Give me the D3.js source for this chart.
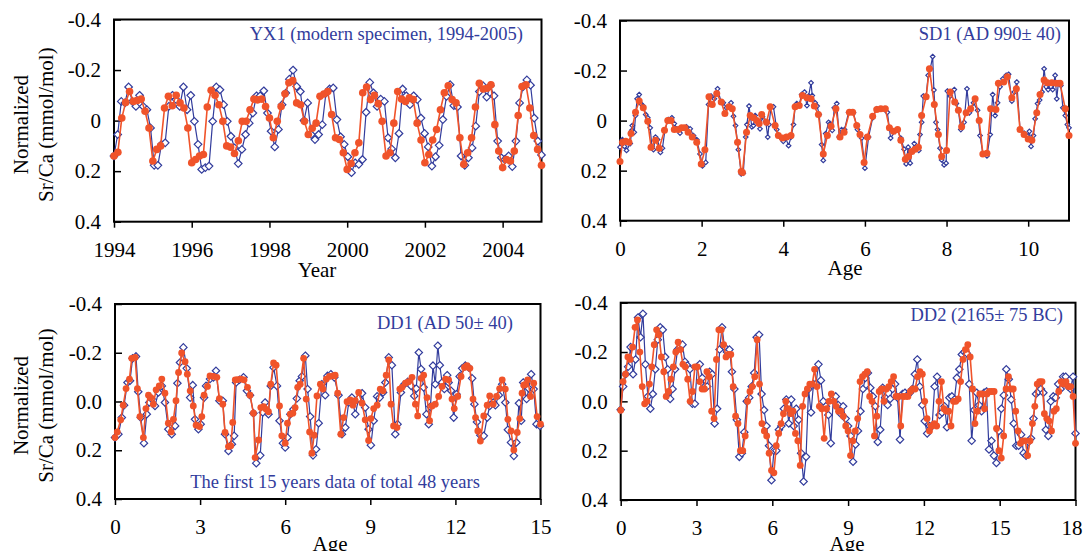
<!DOCTYPE html>
<html>
<head>
<meta charset="utf-8">
<script src="https://cdn.jsdelivr.net/npm/d3@7"></script>
<style>
  body { margin: 0; background: #fff; }
  svg { display: block; }
  text { font-family: "Liberation Serif", "Times New Roman", serif; }
</style>
</head>
<body>
<svg id="chart" width="1083" height="551"></svg>
<script>
// ---- data (normalized Sr/Ca, mmol/mol) ----
const yTickValues = [-0.4, -0.2, 0, 0.2, 0.4];
const yTickLabelsTop = ["-0.4", "-0.2", "0", "0.2", "0.4"];
const yTickLabelsBottom = ["-0.4", "-0.2", "0.0", "0.2", "0.4"];

// YX1, modern specimen 1994-2005 (roughly monthly samples)
const yx1Span = [1994, 2005];
const yx1Ticks = [1994, 1996, 1998, 2000, 2002, 2004];
const yx1Blue = [0.14, 0.055, -0.076, -0.07, -0.133, -0.076, -0.056, -0.1, -0.056, -0.043, 0.029, 0.177, 0.177, 0.094, 0.088,
  -0.056, -0.1, -0.083, -0.056, -0.133, -0.043, -0.1, 0.003, 0.094, 0.193, 0.186, 0.18, 0.003, -0.133, -0.122, -0.063, 0.003,
  0.062, 0.108, 0.17, 0.114, 0.055, 0.01, -0.03, -0.098, -0.098, -0.118, -0.03, 0.042, 0.104, 0.035, -0.063, -0.109, -0.164,
  -0.2, -0.135, -0.115, 0, -0.07, 0.055, 0.075, 0.055, 0.016, -0.109, -0.125, -0.129, -0.004, 0.064, 0.094, 0.143, 0.206,
  0.167, 0.173, 0.154, -0.033, -0.151, -0.11, -0.056, -0.085, -0.076, 0.068, 0.112, 0.147, 0.051, -0.125, -0.098, -0.063,
  -0.098, -0.083, -0.01, 0.051, 0.104, 0.18, 0.143, 0.098, -0.004, -0.096, -0.142, -0.059, -0.054, 0.14, 0.177, 0.147, 0.108,
  0.022, -0.115, -0.138, -0.093, -0.138, -0.098, 0.081, 0.147, 0.154, 0.14, 0.182, 0.081, -0.07, -0.135, -0.161, -0.14,
  -0.01, 0.081, 0.136];
const yx1Orange = [0.14, 0.125, -0.01, -0.072, -0.115, -0.076, -0.08, -0.085, -0.037, 0.029, 0.16, 0.114, 0.1, -0.05, -0.096,
  -0.059, -0.1, -0.07, -0.05, 0.029, 0.167, 0.154, 0.14, 0.134, -0.054, -0.12, -0.1, -0.063, 0.003, 0.1, 0.105, 0.13, 0.08,
  0.003, 0.003, -0.043, -0.085, -0.082, -0.085, -0.056, -0.01, 0.068, 0.003, -0.056, -0.106, -0.15, -0.158, -0.07, -0.063,
  0.003, 0.055, 0.03, 0.01, -0.096, -0.105, -0.115, -0.024, 0.068, 0.075, 0.127, 0.193, 0.17, 0.127, 0.088, -0.11, -0.133,
  -0.083, -0.1, -0.067, 0.003, 0.14, 0.127, 0.01, -0.115, -0.085, -0.076, -0.09, -0.083, 0.01, 0.077, 0.167, 0.134, 0.077,
  0.035, -0.043, -0.11, -0.138, -0.083, -0.07, 0.068, 0.173, 0.127, 0.068, -0.054, -0.148, -0.125, -0.128, -0.142, 0.016,
  0.12, 0.186, 0.154, 0.16, 0.12, -0.02, -0.135, -0.142, -0.05, 0.059, 0.114, 0.177];

// SD1, AD 990 +/- 40 (sample ages)
const sd1Span = [0, 11];
const sd1Ticks = [0, 2, 4, 6, 8, 10];
const sd1BlueAge = [0, 0.06, 0.11, 0.16, 0.25, 0.29, 0.3, 0.35, 0.38, 0.42, 0.47, 0.51, 0.57, 0.63, 0.68, 0.74, 0.78, 0.82,
  0.87, 0.92, 0.99, 1.04, 1.1, 1.18, 1.27, 1.33, 1.39, 1.47, 1.55, 1.63, 1.72, 1.8, 1.88, 1.96, 2.02, 2.1, 2.17, 2.23, 2.31,
  2.39, 2.48, 2.53, 2.61, 2.72, 2.78, 2.83, 2.9, 2.97, 3.02, 3.08, 3.11, 3.16, 3.23, 3.27, 3.31, 3.37, 3.43, 3.49, 3.57, 3.62,
  3.65, 3.7, 3.76, 3.84, 3.92, 4.0, 4.06, 4.13, 4.19, 4.25, 4.29, 4.33, 4.39, 4.45, 4.52, 4.58, 4.62, 4.68, 4.71, 4.78, 4.83,
  4.88, 4.94, 4.98, 5.04, 5.11, 5.15, 5.2, 5.25, 5.31, 5.37, 5.43, 5.5, 5.6, 5.72, 5.82, 5.92, 6.0, 6.09, 6.19, 6.29, 6.37,
  6.47, 6.55, 6.63, 6.74, 6.8, 6.88, 6.96, 7.01, 7.06, 7.11, 7.15, 7.21, 7.25, 7.32, 7.35, 7.39, 7.43, 7.5, 7.55, 7.6, 7.66,
  7.69, 7.74, 7.78, 7.84, 7.88, 7.94, 7.99, 8.02, 8.09, 8.19, 8.24, 8.29, 8.35, 8.43, 8.5, 8.56, 8.66, 8.76, 8.82, 8.89, 8.99,
  9.07, 9.13, 9.19, 9.25, 9.31, 9.38, 9.46, 9.52, 9.6, 9.66, 9.72, 9.8, 9.9, 9.97, 10.03, 10.07, 10.13, 10.17, 10.23, 10.28,
  10.34, 10.39, 10.44, 10.49, 10.56, 10.6, 10.66, 10.7, 10.74, 10.8, 10.85, 10.91, 10.96, 11.0];
const sd1Blue = [0.106, 0.076, 0.103, 0.119, 0.092, 0.039, 0.02, 0.047, -0.02, -0.087, -0.104, -0.068, -0.058, -0.024, -0.011,
  0.029, 0.103, 0.116, 0.066, 0.076, 0.127, 0.11, 0.039, -0.004, -0.011, 0.012, 0.033, 0.05, 0.029, 0.025, 0.033, 0.06, 0.076,
  0.133, 0.181, 0.167, -0.064, -0.098, -0.087, -0.127, -0.074, -0.071, -0.051, -0.071, -0.017, 0.02, 0.116, 0.213, 0.21,
  0.066, 0.016, -0.058, 0.025, 0.02, -0.02, 0.003, 0.033, -0.015, 0.003, 0.066, 0.016, -0.055, -0.055, 0.036, 0.066, 0.083,
  0.07, 0.1, 0.066, 0.016, -0.055, -0.068, -0.064, -0.104, -0.114, -0.06, -0.098, -0.151, -0.1, -0.071, -0.058, -0.024,
  0.096, 0.159, 0.052, 0.007, 0.012, 0.039, -0.051, -0.068, 0.066, 0.036, 0.036, -0.033, -0.031, 0.036, 0.07, 0.19, 0.066,
  -0.011, -0.047, -0.047, -0.047, -0.033, 0.07, 0.043, 0.036, 0.07, 0.114, 0.173, 0.106, 0.17, 0.123, 0.092, 0.11, 0.119,
  0.056, 0.007, -0.098, -0.098, -0.181, -0.207, -0.256, -0.122, 0.007, 0.036, 0.11, 0.157, 0.177, 0.17, -0.118, -0.098,
  -0.124, -0.068, -0.041, 0.036, 0.007, -0.127, -0.031, -0.071, -0.041, 0.06, 0.133, 0.141, 0.056, -0.104, -0.02, -0.071,
  -0.135, -0.167, -0.181, -0.185, -0.078, -0.114, -0.154, 0.033, 0.05, 0.06, 0.043, 0.103, 0.06, -0.007, -0.068, -0.082,
  -0.114, -0.207, -0.135, -0.124, -0.135, -0.124, -0.181, -0.087, -0.151, -0.14, -0.051, -0.02, 0.016, 0.029];
const sd1OrangeAge = [0, 0.06, 0.14, 0.22, 0.27, 0.38, 0.47, 0.57, 0.68, 0.76, 0.87, 0.96, 1.09, 1.17, 1.25, 1.33, 1.43,
  1.51, 1.59, 1.67, 1.77, 1.88, 1.99, 2.08, 2.18, 2.26, 2.37, 2.48, 2.57, 2.67, 2.75, 2.88, 2.97, 3.0, 3.1, 3.19, 3.27, 3.35,
  3.41, 3.47, 3.59, 3.68, 3.8, 3.88, 3.98, 4.08, 4.19, 4.29, 4.39, 4.47, 4.58, 4.68, 4.76, 4.86, 4.98, 5.08, 5.17, 5.29,
  5.39, 5.49, 5.62, 5.7, 5.8, 5.88, 5.98, 6.06, 6.19, 6.29, 6.39, 6.5, 6.6, 6.7, 6.8, 6.88, 6.99, 7.07, 7.15, 7.23, 7.31,
  7.39, 7.5, 7.58, 7.7, 7.8, 7.88, 8.0, 8.09, 8.2, 8.29, 8.37, 8.48, 8.59, 8.7, 8.8, 8.89, 8.99, 9.08, 9.21, 9.27, 9.4, 9.49,
  9.6, 9.71, 9.8, 9.9, 10.0, 10.09, 10.21, 10.29, 10.39, 10.47, 10.58, 10.69, 10.78, 10.91, 11.0];
const sd1Orange = [0.163, 0.087, 0.083, 0.087, 0.052, -0.033, -0.078, -0.051, 0.003, 0.106, 0.079, 0.11, 0.039, 0.0, 0.0,
  0.036, 0.036, 0.029, 0.029, 0.047, 0.066, 0.087, 0.173, 0.116, -0.095, -0.064, -0.108, -0.074, -0.028, -0.055, -0.047,
  0.087, 0.203, 0.207, 0.047, -0.02, -0.011, 0.0, 0.012, -0.024, 0.007, -0.055, 0.02, 0.06, 0.07, 0.066, 0.06, -0.055, -0.06,
  -0.1, -0.091, -0.087, -0.058, -0.024, 0.133, 0.06, 0.023, -0.047, 0.066, 0.047, -0.033, -0.033, 0.02, 0.056, 0.167, 0.066,
  -0.017, -0.044, -0.047, -0.047, 0.029, 0.043, 0.036, 0.079, 0.154, 0.143, 0.123, 0.114, 0.106, -0.02, -0.095, -0.207,
  -0.064, 0.056, 0.143, 0.119, -0.114, -0.074, -0.041, 0.025, -0.031, -0.047, -0.087, 0.0, 0.133, 0.13, -0.047, -0.044,
  -0.149, -0.154, -0.175, -0.091, -0.127, 0.036, 0.056, 0.074, 0.079, -0.031, -0.104, -0.162, -0.151, -0.151, -0.149,
  -0.149, -0.047, 0.06];

// DD1, AD 50 +/- 40 (first 15 years, sample ages)
const dd1Span = [0, 15];
const dd1Ticks = [0, 3, 6, 9, 12, 15];
const dd1BlueAge = [0, 0.12, 0.24, 0.32, 0.44, 0.53, 0.62, 0.74, 0.82, 0.91, 1.02, 1.12, 1.21, 1.29, 1.41, 1.53, 1.65, 1.76,
  1.88, 2.0, 2.12, 2.2, 2.29, 2.41, 2.53, 2.65, 2.74, 2.82, 2.94, 3.02, 3.14, 3.21, 3.35, 3.47, 3.56, 3.68, 3.8, 3.88, 4.0,
  4.12, 4.2, 4.27, 4.39, 4.53, 4.65, 4.76, 4.88, 4.98, 5.12, 5.21, 5.29, 5.41, 5.49, 5.59, 5.71, 5.8, 5.92, 6.0, 6.08, 6.18,
  6.29, 6.41, 6.51, 6.59, 6.71, 6.79, 6.88, 6.98, 7.09, 7.18, 7.29, 7.41, 7.49, 7.61, 7.73, 7.88, 8.0, 8.12, 8.24, 8.35, 8.47,
  8.59, 8.71, 8.82, 8.94, 9.02, 9.12, 9.24, 9.33, 9.45, 9.53, 9.65, 9.76, 9.88, 9.96, 10.08, 10.2, 10.32, 10.44, 10.55,
  10.62, 10.71, 10.79, 10.88, 10.98, 11.06, 11.12, 11.21, 11.29, 11.38, 11.45, 11.53, 11.61, 11.71, 11.76, 11.85, 11.94,
  12.04, 12.15, 12.24, 12.35, 12.47, 12.59, 12.67, 12.76, 12.88, 13.0, 13.12, 13.21, 13.33, 13.41, 13.53, 13.65, 13.76,
  13.85, 13.96, 14.06, 14.15, 14.24, 14.32, 14.39, 14.51, 14.59, 14.67, 14.76, 14.86, 14.98];
const dd1Blue = [0.148, 0.134, 0.066, 0.015, -0.078, -0.085, -0.177, -0.185, -0.04, 0.066, 0.171, 0.052, 0.004, -0.01, 0.018,
  -0.037, -0.064, 0.004, 0.114, 0.134, 0.1, -0.075, -0.16, -0.222, -0.136, -0.016, -0.067, 0.073, 0.114, 0.093, -0.016,
  -0.064, -0.092, -0.099, -0.126, -0.003, -0.003, 0.134, 0.203, 0.175, 0.141, -0.078, -0.089, -0.099, -0.044, -0.026, 0.048,
  0.253, 0.221, 0.045, 0.004, 0.052, -0.064, -0.14, -0.064, 0.079, 0.171, 0.189, 0.148, 0.052, 0.032, -0.012, -0.085,
  -0.103, -0.188, -0.051, 0.062, 0.221, 0.196, 0.089, -0.071, -0.026, -0.105, -0.112, -0.099, -0.026, 0.134, 0.107, 0.004,
  -0.016, 0.052, -0.012, -0.034, 0.025, 0.114, 0.179, 0.079, -0.021, -0.016, -0.037, -0.078, -0.181, -0.149, 0.134, 0.093,
  -0.037, -0.071, -0.081, -0.064, -0.023, -0.053, -0.201, -0.133, -0.058, 0.052, 0.093, 0.021, -0.147, -0.071, -0.229,
  -0.149, -0.078, -0.051, -0.108, -0.078, -0.044, 0.066, -0.03, -0.103, -0.136, -0.147, -0.14, -0.095, 0.011, 0.084, 0.138,
  0.141, 0.066, 0.018, 0.004, 0.015, -0.026, -0.071, 0.004, 0.116, 0.168, 0.223, 0.168, 0.007, 0.079, -0.078, -0.01, -0.053,
  -0.112, -0.051, 0.093, 0.1];
const dd1OrangeAge = [0, 0.08, 0.2, 0.29, 0.39, 0.51, 0.59, 0.71, 0.79, 0.88, 1.0, 1.09, 1.18, 1.26, 1.35, 1.45, 1.56, 1.65,
  1.76, 1.88, 1.98, 2.06, 2.15, 2.24, 2.35, 2.47, 2.55, 2.65, 2.76, 2.86, 2.98, 3.06, 3.14, 3.26, 3.35, 3.47, 3.59, 3.68, 3.8,
  3.88, 4.0, 4.08, 4.15, 4.24, 4.32, 4.44, 4.55, 4.67, 4.76, 4.88, 4.94, 5.06, 5.14, 5.24, 5.33, 5.41, 5.49, 5.59, 5.68, 5.8,
  5.88, 6.0, 6.08, 6.18, 6.27, 6.35, 6.44, 6.53, 6.65, 6.74, 6.86, 6.94, 7.02, 7.12, 7.24, 7.33, 7.45, 7.56, 7.68, 7.76, 7.85,
  7.96, 8.06, 8.18, 8.29, 8.39, 8.47, 8.59, 8.71, 8.82, 8.94, 9.02, 9.12, 9.24, 9.35, 9.45, 9.56, 9.65, 9.73, 9.82, 9.94,
  10.04, 10.12, 10.24, 10.35, 10.47, 10.59, 10.67, 10.79, 10.88, 11.0, 11.09, 11.18, 11.29, 11.41, 11.53, 11.65, 11.76,
  11.88, 11.96, 12.08, 12.2, 12.32, 12.41, 12.51, 12.62, 12.71, 12.79, 12.88, 13.0, 13.12, 13.21, 13.33, 13.45, 13.56,
  13.65, 13.76, 13.85, 13.96, 14.06, 14.18, 14.27, 14.35, 14.41, 14.47, 14.55, 14.65, 14.76, 14.88, 15.0];
const dd1Orange = [0.148, 0.125, 0.075, 0.015, -0.053, -0.092, -0.177, -0.181, -0.053, 0.062, 0.148, 0.029, -0.026, -0.016,
  0.011, -0.048, -0.064, -0.092, -0.034, 0.089, 0.125, 0.073, -0.003, -0.119, -0.199, -0.163, -0.112, -0.044, 0.018, 0.097,
  0.103, 0.062, -0.026, -0.062, -0.105, -0.103, -0.099, -0.012, 0.011, 0.127, 0.185, 0.182, 0.086, -0.089, -0.09, -0.092,
  -0.089, -0.058, -0.026, 0.048, 0.23, 0.158, 0.025, 0.021, 0.032, 0.042, -0.071, -0.158, -0.149, 0.018, 0.141, 0.171, 0.089,
  0.052, 0.048, 0.025, -0.058, -0.071, -0.177, -0.01, 0.125, 0.212, 0.138, -0.023, -0.071, -0.051, -0.092, -0.103, -0.105,
  -0.108, -0.034, 0.134, 0.066, 0.001, -0.007, 0.015, -0.003, -0.037, 0.007, 0.075, 0.16, 0.07, 0.029, 0.015, -0.051, -0.044,
  -0.108, -0.171, 0.011, 0.1, 0.107, -0.051, -0.058, -0.075, -0.081, -0.099, 0.011, 0.059, -0.095, -0.108, -0.016, 0.079,
  0.018, 0.011, -0.021, -0.062, -0.092, -0.089, -0.01, 0.029, -0.021, -0.103, -0.14, -0.147, -0.136, -0.01, 0.066, 0.121,
  0.162, 0.059, 0.015, -0.023, 0.011, -0.021, -0.053, -0.089, -0.051, 0.073, 0.121, 0.199, 0.127, 0.07, -0.034, -0.067,
  -0.07, -0.089, -0.021, -0.075, 0.062, 0.093];

// DD2, 2165 +/- 75 BC
const dd2Span = [0, 18];
const dd2Ticks = [0, 3, 6, 9, 12, 15, 18];
const dd2Blue = [0.034, -0.06, -0.11, -0.14, -0.22, -0.11, -0.17, -0.34, -0.26, -0.355, -0.15, -0.02, 0.03, -0.03, -0.13,
  -0.25, -0.3, -0.29, -0.18, -0.13, -0.01, -0.05, -0.13, -0.21, -0.22, -0.23, -0.16, -0.145, -0.13, 0.01, 0.01, -0.14, -0.15,
  -0.095, -0.06, -0.06, -0.12, -0.11, 0.09, 0.03, -0.21, -0.3, -0.22, -0.2, -0.21, -0.12, -0.05, 0.075, 0.225, 0.21, 0.125,
  0.0, -0.015, -0.06, -0.115, -0.26, -0.27, -0.03, 0.035, 0.1, 0.18, 0.32, 0.2, 0.2, 0.115, 0.1, 0.03, -0.007, 0.09, -0.007,
  0.1, 0.03, 0.075, 0.21, 0.325, 0.225, -0.05, 0.045, -0.07, -0.07, -0.15, -0.085, 0.0, 0.02, 0.055, 0.17, -0.01, -0.02,
  0.015, 0.05, 0.02, 0.07, 0.1, 0.14, 0.245, 0.175, 0.12, 0.04, -0.05, -0.095, -0.115, -0.055, -0.02, 0.02, 0.165, 0.115,
  -0.055, -0.015, 0.015, -0.01, -0.05, -0.07, -0.015, 0.155, -0.03, -0.035, -0.025, -0.035, -0.05, -0.11, -0.17, -0.06,
  0.015, 0.08, 0.13, 0.1, 0.1, -0.06, -0.1, 0.055, 0.045, 0.02, 0.105, -0.015, -0.02, -0.007, -0.095, -0.13, -0.19, -0.2,
  -0.195, -0.07, 0.16, 0.035, -0.035, 0.015, 0.04, -0.035, -0.04, 0.195, 0.16, 0.22, 0.25, 0.12, 0.03, -0.025, -0.13, -0.09,
  -0.007, 0.09, 0.18, 0.18, 0.135, 0.21, 0.22, 0.165, 0.15, 0.07, -0.03, -0.04, -0.05, -0.035, 0.115, 0.14, 0.0, -0.02,
  -0.015, -0.07, -0.05, -0.1, -0.1, -0.06, -0.05, -0.1, 0.13];
const dd2Orange = [0.036, -0.08, -0.11, -0.18, -0.17, -0.22, -0.3, -0.33, -0.2, -0.06, 0.01, 0.0, -0.07, -0.14, -0.23, -0.29,
  -0.27, -0.18, -0.12, -0.02, -0.04, -0.09, -0.14, -0.2, -0.24, -0.21, -0.15, -0.14, -0.09, 0.0, -0.04, -0.14, -0.14, -0.08,
  -0.05, -0.05, -0.12, -0.1, 0.04, 0.07, -0.17, -0.29, -0.29, -0.23, -0.18, -0.19, -0.19, -0.06, 0.06, 0.09, 0.2, 0.2, 0.14,
  0.0, -0.04, -0.06, -0.1, -0.25, -0.07, 0.09, 0.12, 0.14, 0.21, 0.28, 0.29, 0.18, 0.13, 0.09, 0.05, 0.0, 0.03, 0.05, 0.04,
  0.13, 0.16, 0.26, 0.02, -0.03, -0.05, -0.07, -0.07, -0.13, -0.06, 0.02, 0.03, 0.15, 0.03, 0.0, -0.03, 0.0, 0.02, 0.04,
  0.04, 0.06, 0.1, 0.12, 0.22, 0.16, 0.12, 0.07, -0.08, -0.1, -0.11, -0.12, -0.02, 0.0, 0.14, 0.06, -0.04, -0.05, 0.0, -0.05,
  -0.06, -0.08, -0.1, -0.02, -0.02, 0.1, -0.02, -0.02, -0.02, -0.04, -0.05, -0.05, -0.1, -0.12, -0.11, 0.0, 0.07, 0.12, 0.1,
  0.09, 0.1, 0.0, -0.08, 0.03, 0.04, 0.04, 0.1, 0.0, 0.0, -0.01, -0.08, -0.17, -0.21, -0.23, -0.18, -0.05, 0.09, 0.04, -0.03,
  -0.03, 0.03, -0.03, -0.04, -0.04, -0.04, 0.11, 0.2, 0.23, 0.14, -0.05, -0.1, -0.05, -0.05, 0.04, 0.12, 0.17, 0.16, 0.16,
  0.22, 0.16, 0.09, 0.02, -0.07, -0.08, -0.08, 0.05, 0.07, 0.08, 0.12, 0.04, 0.03, -0.04, -0.08, -0.07, -0.08, -0.06, -0.06,
  -0.02, 0.17];

// ---- layout ----
const BLUE = "#323c9c";
const ORANGE = "#f0532a";
const TICK_FONT = 21;
const W = 1083;

const panels = [
  { blue: yx1Blue, orange: yx1Orange, span: yx1Span, ticks: yx1Ticks, yLabels: yTickLabelsTop,
    box: { left: 114, right: 541.5, top: 19.5, bottom: 221.7 }, xTitle: "Year", titleX: 317, titleY: 277, yTitle: true,
    diamond: 3.8, dot: 3.8,
    notes: [{ text: "YX1 (modern specimen, 1994-2005)", x: 523, y: 40, anchor: "end" }] },
  { blue: sd1Blue, blueAge: sd1BlueAge, orange: sd1Orange, orangeAge: sd1OrangeAge, span: sd1Span, ticks: sd1Ticks,
    yLabels: yTickLabelsTop,
    box: { left: 620, right: 1069, top: 20.5, bottom: 220.7 }, xTitle: "Age", titleX: 845, titleY: 275, yTitle: false,
    diamond: 2.3, dot: 3.5,
    notes: [{ text: "SD1 (AD 990\u00b1 40)", x: 1061, y: 40, anchor: "end" }] },
  { blue: dd1Blue, blueAge: dd1BlueAge, orange: dd1Orange, orangeAge: dd1OrangeAge, span: dd1Span, ticks: dd1Ticks,
    yLabels: yTickLabelsBottom,
    box: { left: 115, right: 540.5, top: 304, bottom: 499 }, xTitle: "Age", titleX: 330, titleY: 551, yTitle: true,
    diamond: 3.7, dot: 3.4,
    notes: [{ text: "DD1 (AD 50\u00b1 40)", x: 513, y: 329, anchor: "end" },
            { text: "The first 15 years data of total 48 years", x: 335, y: 488, anchor: "middle" }] },
  { blue: dd2Blue, orange: dd2Orange, span: dd2Span, ticks: dd2Ticks, yLabels: yTickLabelsBottom,
    box: { left: 620.7, right: 1075.5, top: 302.7, bottom: 500 }, xTitle: "Age", titleX: 847, titleY: 551, yTitle: false,
    diamond: 3.7, dot: 3.4,
    notes: [{ text: "DD2 (2165\u00b1 75 BC)", x: 1063, y: 321, anchor: "end" }] }
];

const svg = d3.select("#chart");

panels.forEach(p => {
  const b = p.box;
  const x = d3.scaleLinear().domain(p.span).range([b.left, b.right]);
  const y = d3.scaleLinear().domain([-0.4, 0.4]).range([b.top, b.bottom]);
  const g = svg.append("g");

  // Y axis, ticks pointing inward
  const yAxis = g.append("g")
    .attr("transform", `translate(${b.left},0)`)
    .call(d3.axisLeft(y).tickValues(yTickValues).tickSize(-7).tickPadding(13)
      .tickFormat((d, i) => p.yLabels[i]));

  // X axis, ticks pointing outward
  const xAxis = g.append("g")
    .attr("transform", `translate(0,${b.bottom})`)
    .call(d3.axisBottom(x).tickValues(p.ticks).tickSize(6).tickPadding(14).tickFormat(d3.format("d")));

  [yAxis, xAxis].forEach(ax => {
    ax.attr("font-family", "'Liberation Serif', serif").attr("font-size", TICK_FONT);
    ax.selectAll("text").attr("fill", "#000");
  });
  // keep the right-most label inside the picture
  xAxis.selectAll(".tick text").attr("dx", d => (x(d) + TICK_FONT * 0.5 > W - 1 ? W - 1 - TICK_FONT * 0.5 - x(d) : 0));

  g.selectAll(".domain").remove();
  g.selectAll(".tick line").attr("stroke", "#000").attr("stroke-width", 1.5);

  // Frame
  g.append("rect")
    .attr("x", b.left).attr("y", b.top)
    .attr("width", b.right - b.left).attr("height", b.bottom - b.top)
    .attr("fill", "none").attr("stroke", "#000").attr("stroke-width", 2);

  // Series: use read-off ages where given, otherwise samples spread evenly over the record
  const place = (arr, ages) => {
    const t = d3.scaleLinear().domain([0, arr.length - 1]).range(p.span);
    return arr.map((v, i) => ({ t: ages ? ages[i] : t(i), v }));
  };
  const blue = place(p.blue, p.blueAge);
  const orange = place(p.orange, p.orangeAge);
  const line = d3.line().x(d => x(d.t)).y(d => y(d.v));

  g.append("path").datum(blue)
    .attr("fill", "none").attr("stroke", BLUE).attr("stroke-width", 1.2)
    .attr("stroke-linejoin", "round").attr("d", line);

  const h = p.diamond;
  g.append("g").selectAll("path").data(blue).join("path")
    .attr("d", d => `M${x(d.t)},${y(d.v) - h}L${x(d.t) + h},${y(d.v)}L${x(d.t)},${y(d.v) + h}L${x(d.t) - h},${y(d.v)}Z`)
    .attr("fill", "#fff").attr("stroke", BLUE).attr("stroke-width", 1.2);

  g.append("path").datum(orange)
    .attr("fill", "none").attr("stroke", ORANGE).attr("stroke-width", 1.6)
    .attr("stroke-linejoin", "round").attr("d", line);

  g.append("g").selectAll("circle").data(orange).join("circle")
    .attr("cx", d => x(d.t)).attr("cy", d => y(d.v)).attr("r", p.dot)
    .attr("fill", ORANGE);

  // Annotations
  p.notes.forEach(n => {
    g.append("text").attr("x", n.x).attr("y", n.y).attr("text-anchor", n.anchor)
      .attr("font-size", 18.5).attr("fill", BLUE).text(n.text);
  });

  // X title
  g.append("text").attr("x", p.titleX).attr("y", p.titleY)
    .attr("text-anchor", "middle").attr("font-size", TICK_FONT).text(p.xTitle);

  // Y title (two lines)
  if (p.yTitle) {
    const cy = (b.top + b.bottom) / 2 + 4;
    [["Normalized", 21], ["Sr/Ca (mmol/mol)", 46]].forEach(([txt, cx]) => {
      g.append("text")
        .attr("transform", `translate(${cx},${cy}) rotate(-90)`)
        .attr("text-anchor", "middle").attr("dy", "0.35em")
        .attr("font-size", TICK_FONT).text(txt);
    });
  }
});
</script>
</body>
</html>
